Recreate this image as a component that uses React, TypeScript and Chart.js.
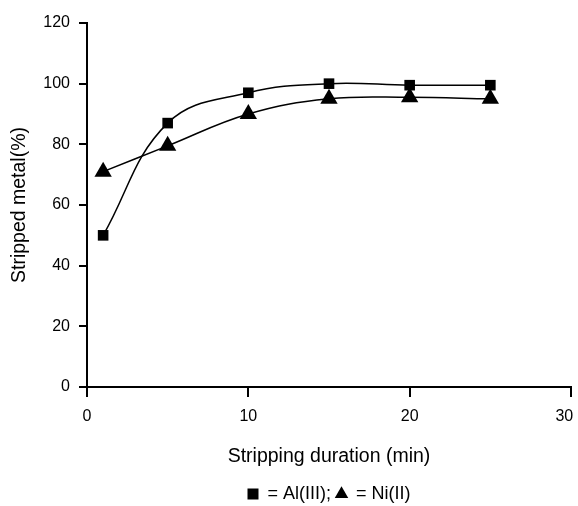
import React, { useEffect, useRef } from "react";
import { Chart, registerables } from "chart.js";

Chart.register(...registerables);

const durations = [1, 5, 10, 15, 20, 25];
const alValues = [50, 87, 97, 100, 99.5, 99.5];
const niValues = [71, 79.5, 90, 95, 95.5, 95];
const xTicks = [0, 10, 20, 30];
const yTicks = [0, 20, 40, 60, 80, 100, 120];
const seriesLabels = ["= Al(III); ", "= Ni(II)"];
const xTitle = "Stripping duration (min)";
const yTitle = "Stripped metal(%)";

const family = "'Liberation Sans', Arial, sans-serif";
const tickFont = { family, size: 16 };
const titleFont = { family, size: 19.5 };
const legendFont = { family, size: 18 };

export default function App() {
  const ref = useRef<HTMLCanvasElement | null>(null);

  useEffect(() => {
    document.body.style.margin = "0";
    if (!ref.current) return;
    const lastX = xTicks[xTicks.length - 1];
    const chart = new Chart(ref.current, {
      type: "line",
      data: {
        datasets: [
          {
            label: seriesLabels[0],
            data: durations.map((x, i) => ({ x, y: alValues[i] })),
            borderColor: "#000",
            backgroundColor: "#000",
            borderWidth: 1.5,
            pointStyle: "rect",
            pointRadius: 7.5,
            pointBorderWidth: 0,
            pointBackgroundColor: "#000",
            tension: 0.4,
          },
          {
            label: seriesLabels[1],
            data: durations.map((x, i) => ({ x, y: niValues[i] })),
            borderColor: "#000",
            backgroundColor: "#000",
            borderWidth: 1.5,
            pointStyle: "triangle",
            pointRadius: 10,
            pointBorderWidth: 0,
            pointBackgroundColor: "#000",
            tension: 0.4,
          },
        ],
      },
      options: {
        animation: false,
        responsive: false,
        maintainAspectRatio: false,
        layout: { autoPadding: false, padding: { left: 0, right: 7, top: 23, bottom: -7 } },
        plugins: {
          tooltip: { enabled: false },
          legend: {
            display: true,
            position: "bottom",
            fullSize: false,
            labels: {
              usePointStyle: true,
              boxWidth: 11,
              boxHeight: 11,
              padding: 0,
              color: "#000",
              font: legendFont,
            },
          },
        },
        scales: {
          x: {
            type: "linear",
            min: 0,
            max: 30,
            afterBuildTicks: (s: any) => {
              s.ticks = xTicks.map((v) => ({ value: v }));
            },
            afterFit: (s: any) => {
              s.height = 98;
              s.paddingLeft = 0;
              s.paddingRight = 0;
            },
            grid: {
              drawOnChartArea: false,
              drawTicks: true,
              tickLength: 10,
              color: "#000",
              lineWidth: 2,
            },
            border: { display: true, color: "#000", width: 2 },
            ticks: {
              color: "#000",
              font: tickFont,
              padding: 10,
              maxRotation: 0,
              callback: (v: any) => (v === lastX ? `${v}   ` : `${v}`),
            },
            title: {
              display: true,
              text: xTitle,
              color: "#000",
              font: titleFont,
              padding: { top: 0, bottom: 16.5 },
            },
          },
          y: {
            min: 0,
            max: 120,
            afterBuildTicks: (s: any) => {
              s.ticks = yTicks.map((v) => ({ value: v }));
            },
            afterFit: (s: any) => {
              s.width = 87;
            },
            grid: {
              drawOnChartArea: false,
              drawTicks: true,
              tickLength: 8,
              color: "#000",
              lineWidth: 2,
            },
            border: { display: true, color: "#000", width: 2 },
            ticks: { color: "#000", font: tickFont, padding: 9 },
            title: {
              display: true,
              text: yTitle,
              color: "#000",
              font: titleFont,
              padding: { top: 8, bottom: 0 },
            },
          },
        },
      },
    });
    return () => chart.destroy();
  }, []);

  return (
    <div style={{ width: 578, height: 506 }}>
      <canvas ref={ref} width={578} height={506} style={{ display: "block", width: 578, height: 506 }} />
    </div>
  );
}
